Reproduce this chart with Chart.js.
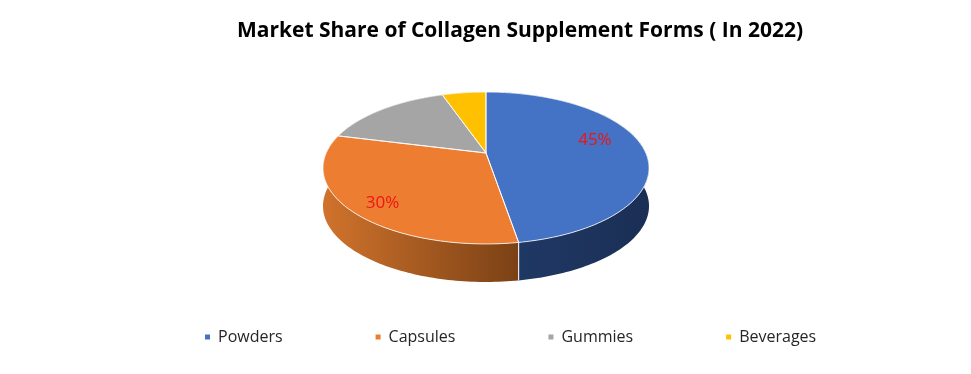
<!DOCTYPE html>
<html lang="en">
<head>
<meta charset="UTF-8">
<title>Market Share of Collagen Supplement Forms</title>
<script src="https://cdn.jsdelivr.net/npm/chart.js"></script>
<style>
  html, body { margin: 0; padding: 0; background: #fff; }
  #wrap { width: 971px; height: 374px; }
</style>
</head>
<body>
<div id="wrap"><canvas id="pie" width="971" height="374"></canvas></div>
<script>
const titleText = 'Market Share of Collagen Supplement Forms ( In 2022)';
const categories = ['Powders', 'Capsules', 'Gummies', 'Beverages'];
const shares = [45, 30, 15, 5];
const sliceLabels = ['45%', '30%', '', ''];
const sliceColors = ['#4472c4', '#ed7d31', '#a5a5a5', '#ffc000'];
const wallLeftColors = ['#1f3864', '#d0732c', '#63635f', '#997300'];
const wallRightColors = ['#1b2f55', '#7b4115', '#63635f', '#997300'];

// tilted pie, Excel style: the hub sits above the middle of the outline
const hubX = 486, hubY = 153, spreadX = 159.8, spreadY = 73, tilt = 0.1974, wallDepth = 38;
const labelAlong = [0.442, 0.465, 0, 0];
const labelRadius = [0.73, 0.83, 0, 0];

function project(angle, r) {
    const px = Math.cos(angle) * r, py = Math.sin(angle) * r;
    const d = 1 - tilt * py;
    return { x: hubX + spreadX * px / d, y: hubY + spreadY * py / d };
}

function traceRim(ctx, start, end, dy, reverse) {
    const steps = Math.max(2, Math.ceil((end - start) / 0.02));
    for (let i = 0; i <= steps; i++) {
        const t = reverse ? steps - i : i;
        const p = project(start + (end - start) * t / steps, 1);
        ctx.lineTo(p.x, p.y + dy);
    }
}

const tiltedPie = {
    id: 'tiltedPie',
    afterLayout(chart) {
        // title and legend are not centred on the page in the original
        chart.titleBlock.left += 69;
        chart.legend.left = 112;
        chart.legend.top -= 19;
    },
    beforeDatasetsDraw(chart) {
        const ctx = chart.ctx;
        const arcs = chart.getDatasetMeta(0).data;
        ctx.save();

        // side walls
        arcs.forEach((arc, i) => {
            const g = ctx.createLinearGradient(i === 0 ? 518 : 323, 0, i === 0 ? 649 : 518, 0);
            g.addColorStop(0, wallLeftColors[i]);
            g.addColorStop(1, wallRightColors[i]);
            ctx.beginPath();
            traceRim(ctx, arc.startAngle, arc.endAngle, 0, false);
            traceRim(ctx, arc.startAngle, arc.endAngle, wallDepth, true);
            ctx.closePath();
            ctx.fillStyle = g;
            ctx.fill();
        });

        // seam between the two front walls
        const seam = project(arcs[0].endAngle, 1);
        ctx.beginPath();
        ctx.moveTo(seam.x, seam.y);
        ctx.lineTo(seam.x, seam.y + wallDepth);
        ctx.strokeStyle = '#ffffff';
        ctx.lineWidth = 1;
        ctx.stroke();

        // top face
        arcs.forEach((arc, i) => {
            ctx.beginPath();
            ctx.moveTo(hubX, hubY);
            traceRim(ctx, arc.startAngle, arc.endAngle, 0, false);
            ctx.closePath();
            ctx.fillStyle = sliceColors[i];
            ctx.fill();
        });
        arcs.forEach(arc => {
            ctx.beginPath();
            ctx.moveTo(hubX, hubY);
            traceRim(ctx, arc.startAngle, arc.endAngle, 0, false);
            ctx.closePath();
            ctx.strokeStyle = '#ffffff';
            ctx.lineWidth = 0.8;
            ctx.stroke();
        });

        // only the two big slices carry a label
        ctx.font = '17px "Open Sans"';
        ctx.fillStyle = '#f01414';
        ctx.textAlign = 'center';
        ctx.textBaseline = 'middle';
        arcs.forEach((arc, i) => {
            if (!sliceLabels[i]) return;
            const mid = arc.startAngle + (arc.endAngle - arc.startAngle) * labelAlong[i];
            const p = project(mid, labelRadius[i]);
            ctx.fillText(sliceLabels[i], p.x, p.y);
        });

        ctx.restore();
        return false;
    }
};

new Chart(document.getElementById('pie'), {
    type: 'pie',
    data: {
        labels: categories,
        datasets: [{ data: shares, backgroundColor: sliceColors, borderWidth: 0 }]
    },
    options: {
        responsive: false,
        animation: false,
        plugins: {
            tooltip: { enabled: false },
            title: {
                display: true,
                text: titleText,
                color: '#000000',
                font: { family: '"Open Sans"', size: 21, weight: 'bold' },
                padding: { top: 18, bottom: 10 }
            },
            legend: {
                position: 'bottom',
                align: 'start',
                labels: {
                    boxWidth: 5,
                    boxHeight: 5,
                    padding: 93,
                    color: '#262626',
                    font: { family: '"Open Sans"', size: 16 }
                }
            }
        }
    },
    plugins: [tiltedPie]
});
</script>
</body>
</html>
